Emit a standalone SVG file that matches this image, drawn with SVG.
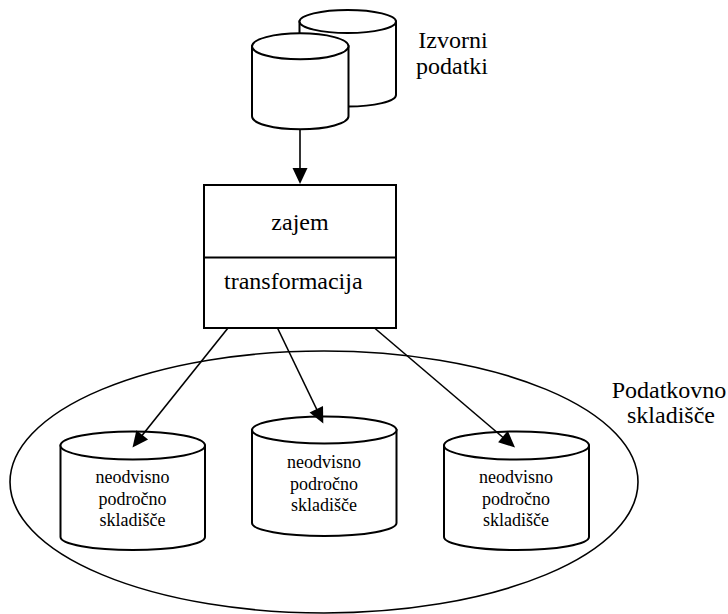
<svg xmlns="http://www.w3.org/2000/svg" width="728" height="614" viewBox="0 0 728 614">
  <rect width="728" height="614" fill="#ffffff"/>

  <!-- data warehouse boundary -->
  <g id="warehouse">
    <ellipse cx="324" cy="482" rx="314" ry="131" fill="none" stroke="#000000" stroke-width="1.6"/>
    <text x="669" y="398" font-size="24" font-family="Liberation Serif" text-anchor="middle">Podatkovno</text>
    <text x="671" y="423" font-size="24" font-family="Liberation Serif" text-anchor="middle">skladišče</text>
  </g>

  <!-- source databases -->
  <g id="sources">
    <path d="M299.5,21.5 V95 A48.25,11.5 0 0 0 396,95 V21.5 Z" fill="#ffffff" stroke="#000000" stroke-width="2"/>
    <ellipse cx="347.75" cy="21.5" rx="48.25" ry="11.5" fill="#ffffff" stroke="#000000" stroke-width="2"/>
    <path d="M252,46.3 V116.3 A48.25,13 0 0 0 348.5,116.3 V46.3 Z" fill="#ffffff" stroke="#000000" stroke-width="2"/>
    <ellipse cx="300.25" cy="46.3" rx="48.25" ry="13" fill="#ffffff" stroke="#000000" stroke-width="2"/>
    <text x="453" y="48" font-size="24" font-family="Liberation Serif" text-anchor="middle">Izvorni</text>
    <text x="452" y="74" font-size="24" font-family="Liberation Serif" text-anchor="middle">podatki</text>
  </g>

  <!-- extraction / transformation stage -->
  <g id="etl">
    <rect x="204" y="185" width="192" height="143" fill="#ffffff" stroke="#000000" stroke-width="2"/>
    <line x1="204" y1="257.5" x2="396" y2="257.5" stroke="#000000" stroke-width="2"/>
    <text x="300" y="230" font-size="24" font-family="Liberation Serif" text-anchor="middle">zajem</text>
    <text x="224" y="289" font-size="24" font-family="Liberation Serif">transformacija</text>
  </g>

  <!-- independent data marts -->
  <g id="mart-left">
    <path d="M60.5,445.5 V537 A72.25,13 0 0 0 205,537 V445.5 Z" fill="#ffffff" stroke="#000000" stroke-width="2"/>
    <ellipse cx="132.75" cy="445.5" rx="72.25" ry="14" fill="#ffffff" stroke="#000000" stroke-width="2"/>
    <text x="132.5" y="483" font-size="18" font-family="Liberation Serif" text-anchor="middle">neodvisno</text>
    <text x="132.5" y="505" font-size="18" font-family="Liberation Serif" text-anchor="middle">področno</text>
    <text x="132.5" y="526" font-size="18" font-family="Liberation Serif" text-anchor="middle">skladišče</text>
  </g>
  <g id="mart-middle">
    <path d="M252,430 V523 A72.25,13 0 0 0 396.5,523 V430 Z" fill="#ffffff" stroke="#000000" stroke-width="2"/>
    <ellipse cx="324.25" cy="430" rx="72.25" ry="13.5" fill="#ffffff" stroke="#000000" stroke-width="2"/>
    <text x="324" y="468" font-size="18" font-family="Liberation Serif" text-anchor="middle">neodvisno</text>
    <text x="324" y="490" font-size="18" font-family="Liberation Serif" text-anchor="middle">področno</text>
    <text x="324" y="511" font-size="18" font-family="Liberation Serif" text-anchor="middle">skladišče</text>
  </g>
  <g id="mart-right">
    <path d="M444,445.5 V537 A72.5,13 0 0 0 589,537 V445.5 Z" fill="#ffffff" stroke="#000000" stroke-width="2"/>
    <ellipse cx="516.5" cy="445.5" rx="72.5" ry="14" fill="#ffffff" stroke="#000000" stroke-width="2"/>
    <text x="516" y="483" font-size="18" font-family="Liberation Serif" text-anchor="middle">neodvisno</text>
    <text x="516" y="505" font-size="18" font-family="Liberation Serif" text-anchor="middle">področno</text>
    <text x="516" y="526" font-size="18" font-family="Liberation Serif" text-anchor="middle">skladišče</text>
  </g>

  <!-- connectors: shafts, then filled heads at the tips -->
  <g id="connectors">
    <line x1="300" y1="129.3" x2="300" y2="172" stroke="#000000" stroke-width="1.6"/>
    <polygon points="300,184 292.5,168 307.5,168" fill="#000000"/>
    <line x1="228" y1="328" x2="140" y2="438" stroke="#000000" stroke-width="1.6"/>
    <polygon points="132.5,447.5 136.4,430.2 148.1,439.6" fill="#000000"/>
    <line x1="277.5" y1="328" x2="318" y2="412" stroke="#000000" stroke-width="1.6"/>
    <polygon points="323.3,423.5 309.5,412.5 323.0,406.0" fill="#000000"/>
    <line x1="374.5" y1="328" x2="506" y2="440" stroke="#000000" stroke-width="1.6"/>
    <polygon points="515,447.5 498.1,442.2 507.8,430.8" fill="#000000"/>
  </g>
</svg>
